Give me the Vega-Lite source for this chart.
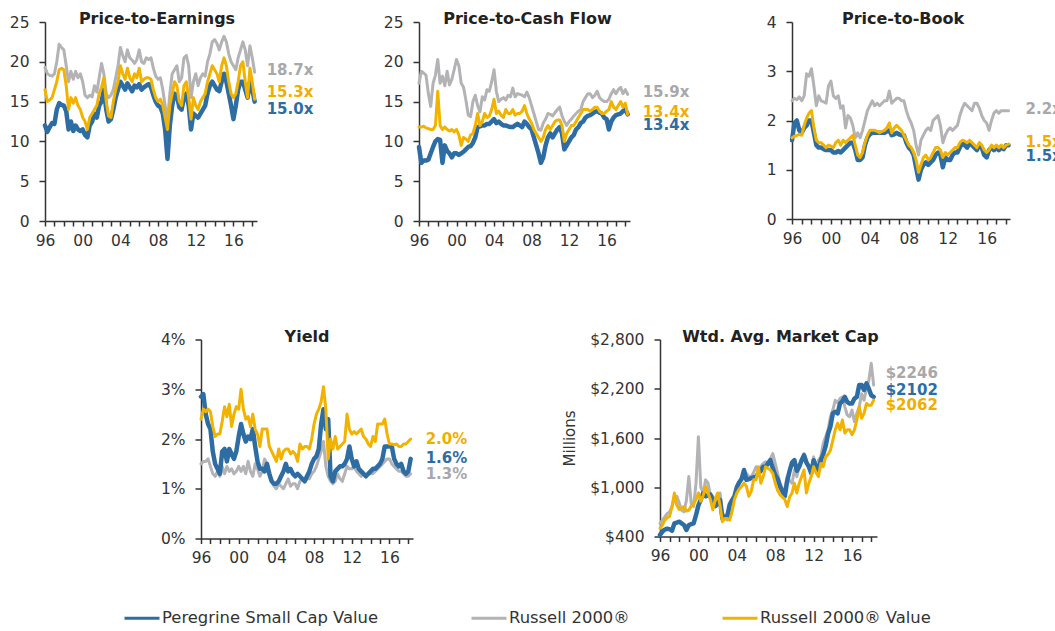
{
"$schema": "https://vega.github.io/schema/vega-lite/v6.json",
"background": "white",
"padding": {"left": 9, "top": 11, "right": 0, "bottom": 0},
"config": {
  "view": {"stroke": null},
  "font": "DejaVu Sans",
  "axis": {"labelFont": "DejaVu Sans", "labelFontSize": 15.5, "labelColor": "#333333", "domainColor": "#333333", "domainWidth": 1.5, "tickColor": "#333333", "tickWidth": 1.5, "tickSize": 6, "labelPadding": 10, "grid": false, "titleFont": "DejaVu Sans", "titleFontSize": 15, "titleFontWeight": "normal", "titleColor": "#333333", "titlePadding": 12},
  "axisX": {"tickSize": 5, "labelPadding": 7, "labelFlush": false, "labelOverlap": false},
  "axisY": {"labelOverlap": false},
  "title": {"font": "DejaVu Sans", "fontSize": 16, "fontWeight": "bold", "color": "#222222", "offset": -12, "frame": "group", "anchor": "middle"},
  "line": {"strokeJoin": "round", "strokeCap": "round"},
  "text": {"font": "DejaVu Sans", "fontSize": 15, "fontWeight": "bold", "align": "left", "baseline": "middle"}
},
"datasets": {
"pe": [
{"t":1996,"P":12.0,"R":19.3,"V":16.5},{"t":1996.25,"P":11.2,"R":18.5,"V":15.0},{"t":1996.5,"P":11.8,"R":18.3,"V":15.2},{"t":1996.75,"P":12.3,"R":18.2,"V":15.5},
{"t":1997,"P":12.2,"R":18.5,"V":16.5},{"t":1997.25,"P":14.0,"R":20.0,"V":17.5},{"t":1997.5,"P":14.8,"R":22.2,"V":19.0},{"t":1997.75,"P":14.6,"R":21.8,"V":19.2},
{"t":1998,"P":14.5,"R":21.5,"V":19.0},{"t":1998.25,"P":13.8,"R":19.5,"V":17.0},{"t":1998.5,"P":11.5,"R":17.5,"V":14.0},{"t":1998.75,"P":12.5,"R":18.8,"V":15.5},
{"t":1999,"P":11.3,"R":17.8,"V":14.8},{"t":1999.25,"P":12.0,"R":18.8,"V":15.5},{"t":1999.5,"P":11.5,"R":18.0,"V":14.5},{"t":1999.75,"P":11.3,"R":18.5,"V":14.0},
{"t":2000,"P":11.5,"R":17.5,"V":13.0},{"t":2000.25,"P":10.8,"R":15.8,"V":12.5},{"t":2000.5,"P":10.5,"R":15.5,"V":11.5},{"t":2000.75,"P":12.0,"R":15.8,"V":13.0},
{"t":2001,"P":12.5,"R":15.6,"V":13.5},{"t":2001.25,"P":13.5,"R":17.0,"V":14.0},{"t":2001.5,"P":13.0,"R":16.2,"V":14.5},{"t":2001.75,"P":14.5,"R":18.0,"V":16.0},
{"t":2002,"P":15.0,"R":19.8,"V":16.8},{"t":2002.25,"P":16.5,"R":18.5,"V":18.0},{"t":2002.5,"P":14.0,"R":16.0,"V":15.0},{"t":2002.75,"P":12.5,"R":15.5,"V":13.2},
{"t":2003,"P":12.8,"R":15.8,"V":13.0},{"t":2003.25,"P":14.0,"R":16.5,"V":15.0},{"t":2003.5,"P":15.5,"R":18.0,"V":16.5},{"t":2003.75,"P":16.5,"R":19.5,"V":17.5},
{"t":2004,"P":17.5,"R":21.8,"V":19.5},{"t":2004.25,"P":17.0,"R":20.8,"V":18.5},{"t":2004.5,"P":16.5,"R":20.0,"V":17.8},{"t":2004.75,"P":17.3,"R":21.5,"V":19.2},
{"t":2005,"P":16.8,"R":20.5,"V":18.0},{"t":2005.25,"P":16.3,"R":20.2,"V":17.5},{"t":2005.5,"P":17.0,"R":19.8,"V":18.5},{"t":2005.75,"P":16.8,"R":20.3,"V":18.0},
{"t":2006,"P":17.2,"R":21.5,"V":19.2},{"t":2006.25,"P":16.5,"R":20.0,"V":17.5},{"t":2006.5,"P":16.8,"R":19.8,"V":17.8},{"t":2006.75,"P":17.0,"R":20.5,"V":18.0},
{"t":2007,"P":17.2,"R":20.3,"V":18.0},{"t":2007.25,"P":16.8,"R":20.5,"V":17.8},{"t":2007.5,"P":15.8,"R":19.2,"V":16.5},{"t":2007.75,"P":15.0,"R":18.2,"V":15.5},
{"t":2008,"P":14.5,"R":17.8,"V":15.0},{"t":2008.25,"P":14.3,"R":18.0,"V":15.3},{"t":2008.5,"P":13.5,"R":16.5,"V":14.5},{"t":2008.75,"P":11.5,"R":14.5,"V":13.0},
{"t":2009,"P":7.8,"R":12.5,"V":11.5},{"t":2009.25,"P":12.0,"R":16.0,"V":14.5},{"t":2009.5,"P":14.5,"R":18.5,"V":16.0},{"t":2009.75,"P":16.0,"R":19.0,"V":17.5},
{"t":2010,"P":15.8,"R":19.5,"V":17.0},{"t":2010.25,"P":14.3,"R":17.5,"V":15.0},{"t":2010.5,"P":14.0,"R":18.0,"V":14.5},{"t":2010.75,"P":15.5,"R":20.5,"V":17.0},
{"t":2011,"P":16.0,"R":20.8,"V":17.5},{"t":2011.25,"P":14.5,"R":19.5,"V":15.5},{"t":2011.5,"P":11.5,"R":15.5,"V":12.8},{"t":2011.75,"P":13.5,"R":17.5,"V":15.5},
{"t":2012,"P":13.2,"R":18.5,"V":14.5},{"t":2012.25,"P":13.0,"R":17.0,"V":14.0},{"t":2012.5,"P":13.5,"R":18.0,"V":15.0},{"t":2012.75,"P":14.0,"R":18.5,"V":15.5},
{"t":2013,"P":14.5,"R":18.2,"V":16.0},{"t":2013.25,"P":16.0,"R":20.0,"V":17.5},{"t":2013.5,"P":17.0,"R":21.0,"V":18.5},{"t":2013.75,"P":17.5,"R":22.5,"V":19.5},
{"t":2014,"P":17.0,"R":22.8,"V":19.0},{"t":2014.25,"P":16.5,"R":22.3,"V":18.5},{"t":2014.5,"P":16.3,"R":21.5,"V":17.5},{"t":2014.75,"P":17.5,"R":22.5,"V":19.5},
{"t":2015,"P":18.5,"R":23.2,"V":20.5},{"t":2015.25,"P":17.5,"R":22.5,"V":19.5},{"t":2015.5,"P":16.0,"R":21.0,"V":17.5},{"t":2015.75,"P":14.5,"R":20.0,"V":16.0},
{"t":2016,"P":12.8,"R":19.5,"V":15.5},{"t":2016.25,"P":14.5,"R":19.0,"V":16.0},{"t":2016.5,"P":16.5,"R":20.5,"V":17.5},{"t":2016.75,"P":17.5,"R":21.5,"V":19.5},
{"t":2017,"P":17.5,"R":22.5,"V":20.0},{"t":2017.25,"P":16.5,"R":21.5,"V":17.5},{"t":2017.5,"P":15.5,"R":19.5,"V":15.5},{"t":2017.75,"P":17.5,"R":22.0,"V":19.2},
{"t":2018,"P":16.5,"R":20.5,"V":17.5},{"t":2018.25,"P":15.0,"R":18.7,"V":15.3}
],
"pcf": [
{"t":1996,"P":9.3,"R":17.3,"V":11.8},{"t":1996.25,"P":7.3,"R":18.8,"V":11.8},{"t":1996.5,"P":7.6,"R":18.6,"V":11.9},{"t":1996.75,"P":7.6,"R":18.3,"V":11.7},
{"t":1997,"P":7.7,"R":16.0,"V":11.6},{"t":1997.25,"P":8.5,"R":14.4,"V":11.5},{"t":1997.5,"P":9.3,"R":17.3,"V":11.5},{"t":1997.75,"P":10.0,"R":18.3,"V":12.0},
{"t":1998,"P":10.3,"R":20.3,"V":16.3},{"t":1998.25,"P":10.2,"R":17.3,"V":12.0},{"t":1998.5,"P":7.3,"R":18.2,"V":11.5},{"t":1998.75,"P":9.5,"R":17.0,"V":11.8},
{"t":1999,"P":8.8,"R":18.8,"V":11.5},{"t":1999.25,"P":8.5,"R":17.1,"V":11.3},{"t":1999.5,"P":8.0,"R":17.8,"V":11.5},{"t":1999.75,"P":8.5,"R":19.0,"V":11.2},
{"t":2000,"P":8.5,"R":20.3,"V":11.5},{"t":2000.25,"P":8.3,"R":19.5,"V":10.8},{"t":2000.5,"P":8.5,"R":17.3,"V":9.5},{"t":2000.75,"P":8.7,"R":16.8,"V":10.5},
{"t":2001,"P":9.0,"R":15.2,"V":10.3},{"t":2001.25,"P":9.3,"R":13.3,"V":10.0},{"t":2001.5,"P":9.4,"R":13.1,"V":10.8},{"t":2001.75,"P":9.8,"R":15.0,"V":11.0},
{"t":2002,"P":10.5,"R":15.8,"V":12.0},{"t":2002.25,"P":11.8,"R":14.5,"V":13.5},{"t":2002.5,"P":11.9,"R":13.7,"V":12.0},{"t":2002.75,"P":12.0,"R":15.6,"V":12.5},
{"t":2003,"P":12.0,"R":15.2,"V":13.5},{"t":2003.25,"P":12.2,"R":16.5,"V":13.0},{"t":2003.5,"P":12.2,"R":16.3,"V":13.2},{"t":2003.75,"P":12.5,"R":17.5,"V":14.0},
{"t":2004,"P":12.8,"R":19.0,"V":15.3},{"t":2004.25,"P":12.3,"R":16.3,"V":13.5},{"t":2004.5,"P":12.5,"R":15.0,"V":13.8},{"t":2004.75,"P":12.2,"R":15.3,"V":13.3},
{"t":2005,"P":12.0,"R":15.5,"V":13.0},{"t":2005.25,"P":12.0,"R":15.2,"V":14.0},{"t":2005.5,"P":11.9,"R":15.8,"V":13.5},{"t":2005.75,"P":11.8,"R":15.6,"V":13.5},
{"t":2006,"P":11.8,"R":16.7,"V":14.0},{"t":2006.25,"P":12.0,"R":15.6,"V":13.3},{"t":2006.5,"P":12.2,"R":16.0,"V":13.5},{"t":2006.75,"P":12.0,"R":15.9,"V":13.5},
{"t":2007,"P":11.8,"R":15.8,"V":13.8},{"t":2007.25,"P":12.5,"R":15.6,"V":14.5},{"t":2007.5,"P":12.2,"R":16.2,"V":13.5},{"t":2007.75,"P":11.8,"R":15.5,"V":12.8},
{"t":2008,"P":11.5,"R":14.5,"V":12.3},{"t":2008.25,"P":10.5,"R":13.5,"V":11.5},{"t":2008.5,"P":9.5,"R":12.5,"V":11.0},{"t":2008.75,"P":8.5,"R":11.5,"V":10.5},
{"t":2009,"P":7.3,"R":11.4,"V":10.0},{"t":2009.25,"P":8.0,"R":12.3,"V":10.5},{"t":2009.5,"P":9.5,"R":12.8,"V":11.5},{"t":2009.75,"P":10.5,"R":13.5,"V":12.0},
{"t":2010,"P":11.0,"R":13.4,"V":11.5},{"t":2010.25,"P":10.5,"R":13.2,"V":12.0},{"t":2010.5,"P":11.0,"R":13.6,"V":12.5},{"t":2010.75,"P":11.5,"R":14.0,"V":12.7},
{"t":2011,"P":11.8,"R":14.3,"V":12.7},{"t":2011.25,"P":11.0,"R":13.2,"V":12.0},{"t":2011.5,"P":9.0,"R":12.5,"V":10.0},{"t":2011.75,"P":9.5,"R":12.0,"V":11.0},
{"t":2012,"P":10.0,"R":12.5,"V":11.5},{"t":2012.25,"P":10.5,"R":12.8,"V":12.0},{"t":2012.5,"P":10.8,"R":13.2,"V":12.0},{"t":2012.75,"P":11.5,"R":13.5,"V":12.5},
{"t":2013,"P":11.8,"R":13.8,"V":13.0},{"t":2013.25,"P":12.3,"R":14.0,"V":13.5},{"t":2013.5,"P":12.5,"R":15.0,"V":14.0},{"t":2013.75,"P":13.0,"R":15.5,"V":14.0},
{"t":2014,"P":13.2,"R":16.0,"V":14.0},{"t":2014.25,"P":13.3,"R":16.0,"V":13.8},{"t":2014.5,"P":13.5,"R":15.5,"V":14.0},{"t":2014.75,"P":13.7,"R":15.8,"V":14.3},
{"t":2015,"P":13.8,"R":16.3,"V":14.3},{"t":2015.25,"P":13.6,"R":15.5,"V":13.8},{"t":2015.5,"P":13.5,"R":15.2,"V":13.5},{"t":2015.75,"P":13.0,"R":15.0,"V":13.5},
{"t":2016,"P":12.8,"R":15.0,"V":13.8},{"t":2016.25,"P":11.5,"R":15.3,"V":14.0},{"t":2016.5,"P":12.5,"R":16.0,"V":15.0},{"t":2016.75,"P":13.0,"R":16.5,"V":14.3},
{"t":2017,"P":13.3,"R":16.0,"V":14.0},{"t":2017.25,"P":13.4,"R":16.5,"V":14.5},{"t":2017.5,"P":13.5,"R":16.8,"V":15.0},{"t":2017.75,"P":13.8,"R":16.0,"V":14.3},
{"t":2018,"P":14.0,"R":16.5,"V":14.8},{"t":2018.25,"P":13.4,"R":15.9,"V":13.4}
],
"pb": [
{"t":1996,"P":1.60,"R":2.40,"V":1.65},{"t":1996.25,"P":1.95,"R":2.45,"V":1.68},{"t":1996.5,"P":2.00,"R":2.42,"V":1.70},{"t":1996.75,"P":1.80,"R":2.48,"V":1.72},
{"t":1997,"P":1.75,"R":2.40,"V":1.70},{"t":1997.25,"P":1.85,"R":2.50,"V":1.90},{"t":1997.5,"P":1.90,"R":2.95,"V":2.05},{"t":1997.75,"P":2.00,"R":2.90,"V":2.15},
{"t":1998,"P":2.00,"R":3.05,"V":2.20},{"t":1998.25,"P":1.75,"R":2.70,"V":1.85},{"t":1998.5,"P":1.50,"R":2.30,"V":1.60},{"t":1998.75,"P":1.45,"R":2.50,"V":1.55},
{"t":1999,"P":1.45,"R":2.40,"V":1.55},{"t":1999.25,"P":1.42,"R":2.38,"V":1.50},{"t":1999.5,"P":1.40,"R":2.35,"V":1.45},{"t":1999.75,"P":1.40,"R":2.70,"V":1.50},
{"t":2000,"P":1.40,"R":2.80,"V":1.48},{"t":2000.25,"P":1.35,"R":2.50,"V":1.45},{"t":2000.5,"P":1.35,"R":2.45,"V":1.55},{"t":2000.75,"P":1.38,"R":2.50,"V":1.60},
{"t":2001,"P":1.35,"R":2.25,"V":1.50},{"t":2001.25,"P":1.40,"R":2.30,"V":1.60},{"t":2001.5,"P":1.45,"R":1.85,"V":1.55},{"t":2001.75,"P":1.50,"R":2.10,"V":1.60},
{"t":2002,"P":1.55,"R":2.05,"V":1.65},{"t":2002.25,"P":1.55,"R":1.90,"V":1.70},{"t":2002.5,"P":1.40,"R":1.65,"V":1.50},{"t":2002.75,"P":1.20,"R":1.75,"V":1.30},
{"t":2003,"P":1.20,"R":1.65,"V":1.25},{"t":2003.25,"P":1.25,"R":1.80,"V":1.35},{"t":2003.5,"P":1.50,"R":2.00,"V":1.55},{"t":2003.75,"P":1.65,"R":2.20,"V":1.70},
{"t":2004,"P":1.72,"R":2.30,"V":1.80},{"t":2004.25,"P":1.75,"R":2.40,"V":1.80},{"t":2004.5,"P":1.75,"R":2.30,"V":1.80},{"t":2004.75,"P":1.75,"R":2.35,"V":1.78},
{"t":2005,"P":1.75,"R":2.30,"V":1.75},{"t":2005.25,"P":1.75,"R":2.35,"V":1.78},{"t":2005.5,"P":1.75,"R":2.40,"V":1.80},{"t":2005.75,"P":1.78,"R":2.40,"V":1.85},
{"t":2006,"P":1.80,"R":2.60,"V":1.95},{"t":2006.25,"P":1.70,"R":2.35,"V":1.75},{"t":2006.5,"P":1.72,"R":2.40,"V":1.85},{"t":2006.75,"P":1.75,"R":2.45,"V":1.90},
{"t":2007,"P":1.72,"R":2.45,"V":1.85},{"t":2007.25,"P":1.70,"R":2.40,"V":1.80},{"t":2007.5,"P":1.70,"R":2.40,"V":1.70},{"t":2007.75,"P":1.55,"R":2.20,"V":1.60},
{"t":2008,"P":1.45,"R":2.05,"V":1.50},{"t":2008.25,"P":1.40,"R":1.95,"V":1.45},{"t":2008.5,"P":1.30,"R":1.80,"V":1.35},{"t":2008.75,"P":1.05,"R":1.50,"V":1.20},
{"t":2009,"P":0.80,"R":1.30,"V":0.95},{"t":2009.25,"P":1.00,"R":1.60,"V":1.10},{"t":2009.5,"P":1.10,"R":1.70,"V":1.25},{"t":2009.75,"P":1.15,"R":1.80,"V":1.30},
{"t":2010,"P":1.10,"R":1.85,"V":1.20},{"t":2010.25,"P":1.15,"R":1.80,"V":1.25},{"t":2010.5,"P":1.20,"R":2.00,"V":1.35},{"t":2010.75,"P":1.30,"R":2.05,"V":1.45},
{"t":2011,"P":1.35,"R":2.10,"V":1.45},{"t":2011.25,"P":1.30,"R":1.90,"V":1.40},{"t":2011.5,"P":1.05,"R":1.55,"V":1.25},{"t":2011.75,"P":1.25,"R":1.70,"V":1.35},
{"t":2012,"P":1.20,"R":1.80,"V":1.30},{"t":2012.25,"P":1.20,"R":1.85,"V":1.35},{"t":2012.5,"P":1.30,"R":1.80,"V":1.40},{"t":2012.75,"P":1.35,"R":1.85,"V":1.45},
{"t":2013,"P":1.35,"R":1.90,"V":1.45},{"t":2013.25,"P":1.45,"R":2.10,"V":1.55},{"t":2013.5,"P":1.55,"R":2.25,"V":1.60},{"t":2013.75,"P":1.50,"R":2.35,"V":1.58},
{"t":2014,"P":1.45,"R":2.30,"V":1.55},{"t":2014.25,"P":1.55,"R":2.25,"V":1.60},{"t":2014.5,"P":1.50,"R":2.20,"V":1.55},{"t":2014.75,"P":1.45,"R":2.35,"V":1.50},
{"t":2015,"P":1.40,"R":2.35,"V":1.45},{"t":2015.25,"P":1.50,"R":2.25,"V":1.55},{"t":2015.5,"P":1.45,"R":2.10,"V":1.50},{"t":2015.75,"P":1.30,"R":2.00,"V":1.40},
{"t":2016,"P":1.25,"R":1.95,"V":1.35},{"t":2016.25,"P":1.40,"R":1.80,"V":1.40},{"t":2016.5,"P":1.45,"R":2.00,"V":1.50},{"t":2016.75,"P":1.40,"R":2.15,"V":1.45},
{"t":2017,"P":1.45,"R":2.20,"V":1.50},{"t":2017.25,"P":1.40,"R":2.15,"V":1.45},{"t":2017.5,"P":1.45,"R":2.20,"V":1.50},{"t":2017.75,"P":1.42,"R":2.20,"V":1.45},
{"t":2018,"P":1.50,"R":2.20,"V":1.50},{"t":2018.25,"P":1.50,"R":2.20,"V":1.52}
],
"yld": [
{"t":1996,"P":2.85,"R":1.50,"V":2.40},{"t":1996.25,"P":2.90,"R":1.55,"V":2.60},{"t":1996.5,"P":2.50,"R":1.55,"V":2.55},{"t":1996.75,"P":2.30,"R":1.60,"V":2.60},
{"t":1997,"P":2.20,"R":1.45,"V":2.55},{"t":1997.25,"P":1.75,"R":1.30,"V":2.25},{"t":1997.5,"P":1.50,"R":1.25,"V":2.05},{"t":1997.75,"P":1.40,"R":1.35,"V":2.10},
{"t":1998,"P":1.30,"R":1.25,"V":2.10},{"t":1998.25,"P":1.75,"R":1.45,"V":2.35},{"t":1998.5,"P":1.80,"R":1.30,"V":2.65},{"t":1998.75,"P":1.55,"R":1.45,"V":2.45},
{"t":1999,"P":1.80,"R":1.35,"V":2.70},{"t":1999.25,"P":1.70,"R":1.40,"V":2.25},{"t":1999.5,"P":1.60,"R":1.30,"V":2.50},{"t":1999.75,"P":1.75,"R":1.35,"V":2.65},
{"t":2000,"P":2.05,"R":1.45,"V":2.60},{"t":2000.25,"P":2.30,"R":1.35,"V":3.00},{"t":2000.5,"P":2.10,"R":1.45,"V":2.60},{"t":2000.75,"P":1.95,"R":1.30,"V":2.40},
{"t":2001,"P":2.05,"R":1.55,"V":2.45},{"t":2001.25,"P":2.00,"R":1.35,"V":2.25},{"t":2001.5,"P":2.20,"R":1.25,"V":2.50},{"t":2001.75,"P":1.85,"R":1.50,"V":2.20},
{"t":2002,"P":1.55,"R":1.40,"V":2.10},{"t":2002.25,"P":1.40,"R":1.25,"V":1.85},{"t":2002.5,"P":1.40,"R":1.35,"V":2.20},{"t":2002.75,"P":1.35,"R":1.60,"V":2.20},
{"t":2003,"P":1.50,"R":1.50,"V":2.20},{"t":2003.25,"P":1.30,"R":1.35,"V":1.85},{"t":2003.5,"P":1.15,"R":1.15,"V":1.75},{"t":2003.75,"P":1.10,"R":1.05,"V":1.65},
{"t":2004,"P":1.10,"R":1.00,"V":1.55},{"t":2004.25,"P":1.15,"R":1.10,"V":1.80},{"t":2004.5,"P":1.25,"R":1.05,"V":1.60},{"t":2004.75,"P":1.35,"R":1.00,"V":1.75},
{"t":2005,"P":1.50,"R":1.10,"V":1.80},{"t":2005.25,"P":1.35,"R":1.20,"V":1.80},{"t":2005.5,"P":1.40,"R":1.05,"V":1.70},{"t":2005.75,"P":1.30,"R":1.10,"V":1.75},
{"t":2006,"P":1.25,"R":1.10,"V":1.70},{"t":2006.25,"P":1.30,"R":1.00,"V":1.55},{"t":2006.5,"P":1.25,"R":1.15,"V":1.90},{"t":2006.75,"P":1.20,"R":1.20,"V":1.80},
{"t":2007,"P":1.15,"R":1.15,"V":1.85},{"t":2007.25,"P":1.25,"R":1.20,"V":1.85},{"t":2007.5,"P":1.35,"R":1.20,"V":1.80},{"t":2007.75,"P":1.50,"R":1.30,"V":2.00},
{"t":2008,"P":1.60,"R":1.35,"V":2.30},{"t":2008.25,"P":1.65,"R":1.45,"V":2.50},{"t":2008.5,"P":1.80,"R":1.60,"V":2.60},{"t":2008.75,"P":2.30,"R":1.75,"V":2.75},
{"t":2009,"P":2.60,"R":1.95,"V":3.05},{"t":2009.25,"P":2.20,"R":1.45,"V":2.60},{"t":2009.5,"P":2.40,"R":1.25,"V":1.60},{"t":2009.75,"P":1.25,"R":1.15,"V":2.00},
{"t":2010,"P":1.15,"R":1.10,"V":1.80},{"t":2010.25,"P":1.35,"R":1.15,"V":2.05},{"t":2010.5,"P":1.40,"R":1.30,"V":1.80},{"t":2010.75,"P":1.45,"R":1.20,"V":1.85},
{"t":2011,"P":1.45,"R":1.15,"V":1.90},{"t":2011.25,"P":1.50,"R":1.30,"V":1.95},{"t":2011.5,"P":1.60,"R":1.45,"V":2.50},{"t":2011.75,"P":1.85,"R":1.40,"V":2.20},
{"t":2012,"P":1.60,"R":1.40,"V":2.10},{"t":2012.25,"P":1.45,"R":1.45,"V":2.15},{"t":2012.5,"P":1.55,"R":1.35,"V":2.10},{"t":2012.75,"P":1.40,"R":1.30,"V":2.15},
{"t":2013,"P":1.35,"R":1.25,"V":2.20},{"t":2013.25,"P":1.30,"R":1.30,"V":2.05},{"t":2013.5,"P":1.25,"R":1.25,"V":2.00},{"t":2013.75,"P":1.30,"R":1.30,"V":1.90},
{"t":2014,"P":1.35,"R":1.30,"V":1.85},{"t":2014.25,"P":1.40,"R":1.30,"V":2.05},{"t":2014.5,"P":1.40,"R":1.35,"V":1.95},{"t":2014.75,"P":1.45,"R":1.40,"V":2.30},
{"t":2015,"P":1.50,"R":1.45,"V":2.30},{"t":2015.25,"P":1.60,"R":1.50,"V":2.30},{"t":2015.5,"P":1.85,"R":1.55,"V":2.40},{"t":2015.75,"P":1.85,"R":1.60,"V":2.10},
{"t":2016,"P":1.85,"R":1.60,"V":1.90},{"t":2016.25,"P":1.85,"R":1.50,"V":1.90},{"t":2016.5,"P":1.60,"R":1.45,"V":1.88},{"t":2016.75,"P":1.50,"R":1.40,"V":1.90},
{"t":2017,"P":1.45,"R":1.35,"V":1.85},{"t":2017.25,"P":1.50,"R":1.35,"V":1.85},{"t":2017.5,"P":1.35,"R":1.30,"V":1.90},{"t":2017.75,"P":1.30,"R":1.25,"V":1.90},
{"t":2018,"P":1.35,"R":1.25,"V":1.95},{"t":2018.25,"P":1.60,"R":1.30,"V":2.00}
],
"cap": [
{"t":1996,"P":420,"R":560,"V":500},{"t":1996.25,"P":460,"R":600,"V":540},{"t":1996.5,"P":485,"R":640,"V":600},{"t":1996.75,"P":495,"R":680,"V":630},
{"t":1997,"P":490,"R":700,"V":645},{"t":1997.25,"P":470,"R":765,"V":765},{"t":1997.5,"P":560,"R":860,"V":930},{"t":1997.75,"P":570,"R":890,"V":780},
{"t":1998,"P":580,"R":810,"V":730},{"t":1998.25,"P":560,"R":720,"V":745},{"t":1998.5,"P":540,"R":700,"V":765},{"t":1998.75,"P":480,"R":840,"V":710},
{"t":1999,"P":540,"R":1130,"V":720},{"t":1999.25,"P":550,"R":805,"V":770},{"t":1999.5,"P":560,"R":765,"V":800},{"t":1999.75,"P":660,"R":1050,"V":850},
{"t":2000,"P":780,"R":1615,"V":930},{"t":2000.25,"P":850,"R":1000,"V":830},{"t":2000.5,"P":930,"R":930,"V":900},{"t":2000.75,"P":890,"R":1090,"V":1010},
{"t":2001,"P":900,"R":1050,"V":930},{"t":2001.25,"P":910,"R":900,"V":850},{"t":2001.5,"P":840,"R":890,"V":725},{"t":2001.75,"P":770,"R":850,"V":850},
{"t":2002,"P":800,"R":785,"V":930},{"t":2002.25,"P":845,"R":930,"V":780},{"t":2002.5,"P":620,"R":700,"V":580},{"t":2002.75,"P":645,"R":620,"V":620},
{"t":2003,"P":645,"R":600,"V":620},{"t":2003.25,"P":785,"R":700,"V":600},{"t":2003.5,"P":840,"R":805,"V":700},{"t":2003.75,"P":890,"R":900,"V":850},
{"t":2004,"P":1000,"R":950,"V":930},{"t":2004.25,"P":1060,"R":1050,"V":980},{"t":2004.5,"P":1100,"R":1130,"V":1010},{"t":2004.75,"P":1210,"R":1170,"V":1050},
{"t":2005,"P":1090,"R":1170,"V":1010},{"t":2005.25,"P":1100,"R":1130,"V":890},{"t":2005.5,"P":1110,"R":1130,"V":950},{"t":2005.75,"P":1120,"R":1180,"V":1090},
{"t":2006,"P":1130,"R":1250,"V":1090},{"t":2006.25,"P":1170,"R":1210,"V":1250},{"t":2006.5,"P":1200,"R":1250,"V":1050},{"t":2006.75,"P":1250,"R":1290,"V":1130},
{"t":2007,"P":1250,"R":1310,"V":1250},{"t":2007.25,"P":1290,"R":1290,"V":1230},{"t":2007.5,"P":1330,"R":1350,"V":1210},{"t":2007.75,"P":1230,"R":1410,"V":1170},
{"t":2008,"P":1150,"R":1290,"V":1050},{"t":2008.25,"P":1100,"R":1170,"V":960},{"t":2008.5,"P":1010,"R":1050,"V":910},{"t":2008.75,"P":950,"R":980,"V":880},
{"t":2009,"P":890,"R":970,"V":850},{"t":2009.25,"P":1080,"R":1130,"V":765},{"t":2009.5,"P":1200,"R":1080,"V":880},{"t":2009.75,"P":1300,"R":1050,"V":930},
{"t":2010,"P":1330,"R":1210,"V":1050},{"t":2010.25,"P":1200,"R":1130,"V":930},{"t":2010.5,"P":1250,"R":1250,"V":1050},{"t":2010.75,"P":1330,"R":1330,"V":1130},
{"t":2011,"P":1390,"R":1410,"V":1210},{"t":2011.25,"P":1300,"R":1330,"V":930},{"t":2011.5,"P":1250,"R":1250,"V":1050},{"t":2011.75,"P":1170,"R":1210,"V":1130},
{"t":2012,"P":1330,"R":1370,"V":1250},{"t":2012.25,"P":1250,"R":1250,"V":1180},{"t":2012.5,"P":1210,"R":1330,"V":1130},{"t":2012.75,"P":1330,"R":1370,"V":1290},
{"t":2013,"P":1400,"R":1535,"V":1250},{"t":2013.25,"P":1500,"R":1615,"V":1370},{"t":2013.5,"P":1650,"R":1700,"V":1400},{"t":2013.75,"P":1740,"R":1860,"V":1450},
{"t":2014,"P":1900,"R":1940,"V":1575},{"t":2014.25,"P":1920,"R":2060,"V":1700},{"t":2014.5,"P":1900,"R":2030,"V":1780},{"t":2014.75,"P":2020,"R":2080,"V":1700},
{"t":2015,"P":2050,"R":2100,"V":1820},{"t":2015.25,"P":2100,"R":1980,"V":1660},{"t":2015.5,"P":2040,"R":1880,"V":1700},{"t":2015.75,"P":2020,"R":1860,"V":1700},
{"t":2016,"P":2020,"R":1940,"V":1640},{"t":2016.25,"P":2080,"R":1800,"V":1700},{"t":2016.5,"P":2100,"R":1900,"V":1820},{"t":2016.75,"P":2245,"R":1980,"V":1980},
{"t":2017,"P":2245,"R":2140,"V":1840},{"t":2017.25,"P":2185,"R":2060,"V":1900},{"t":2017.5,"P":2265,"R":2200,"V":2020},{"t":2017.75,"P":2200,"R":2300,"V":2000},
{"t":2018,"P":2120,"R":2510,"V":2000},{"t":2018.25,"P":2102,"R":2246,"V":2062}
]
},
"spacing": 79.5,
"vconcat": [
{
"hconcat": [
{
 "title": {"text": "Price-to-Earnings", "dx": 6},
 "width": 212, "height": 199,
 "data": {"name": "pe"},
 "transform": [{"fold": ["R","P","V"], "as": ["s","v"]}],
 "encoding": {
  "x": {"field": "t", "type": "quantitative", "scale": {"domain": [1996, 2018.5], "nice": false, "zero": false}, "axis": {"title": null, "values": [1996,1997,1998,1999,2000,2001,2002,2003,2004,2005,2006,2007,2008,2009,2010,2011,2012,2013,2014,2015,2016,2017,2018], "labelExpr": "(datum.value - 1996) % 4 == 0 ? substring(toString(datum.value), 2, 4) : ''"}},
  "y": {"field": "v", "type": "quantitative", "scale": {"domain": [0, 25], "nice": false}, "axis": {"title": null, "values": [0,5,10,15,20,25]}}
 },
 "layer": [
  {"mark": {"type": "line"}, "encoding": {
    "color": {"field": "s", "type": "nominal", "scale": {"domain": ["P","R","V"], "range": ["#2E6DA4","#B3B3B6","#F2B300"]},
      "legend": {"orient": "none", "legendX": 78, "legendY": 577, "direction": "horizontal", "title": null, "symbolType": "stroke", "symbolSize": 1225, "symbolStrokeWidth": 3, "labelFont": "DejaVu Sans", "labelFontSize": 16.4, "labelLimit": 500, "labelColor": "#333333", "columnPadding": 91, "labelOffset": 1,
        "labelExpr": "datum.label == 'P' ? 'Peregrine Small Cap Value' : datum.label == 'R' ? 'Russell 2000®' : 'Russell 2000® Value'",
        "encode": {"symbols": {"update": {"strokeWidth": {"signal": "datum.value == 'P' ? 5 : 3"}}}}}},
    "strokeWidth": {"condition": {"test": "datum.s == 'P'", "value": 4.5}, "value": 3}}},
  {"transform": [{"filter": "datum.t == 2018.25 && datum.s == 'R'"}, {"calculate": "format(datum.v, '.1f') + 'x'", "as": "lbl"}], "mark": {"type": "text", "dx": 12, "dy": -2, "color": "#A8A8AB"}, "encoding": {"text": {"field": "lbl", "type": "nominal"}}},
  {"transform": [{"filter": "datum.t == 2018.25 && datum.s == 'V'"}, {"calculate": "format(datum.v, '.1f') + 'x'", "as": "lbl"}], "mark": {"type": "text", "dx": 12, "dy": -7.5, "color": "#F0AE00"}, "encoding": {"text": {"field": "lbl", "type": "nominal"}}},
  {"transform": [{"filter": "datum.t == 2018.25 && datum.s == 'P'"}, {"calculate": "format(datum.v, '.1f') + 'x'", "as": "lbl"}], "mark": {"type": "text", "dx": 12, "dy": 7.7, "color": "#2E6DA4"}, "encoding": {"text": {"field": "lbl", "type": "nominal"}}}
 ]
},
{
 "title": {"text": "Price-to-Cash Flow", "dx": 3},
 "width": 211, "height": 199,
 "data": {"name": "pcf"},
 "transform": [{"fold": ["R","P","V"], "as": ["s","v"]}],
 "encoding": {
  "x": {"field": "t", "type": "quantitative", "scale": {"domain": [1996, 2018.5], "nice": false, "zero": false}, "axis": {"title": null, "values": [1996,1997,1998,1999,2000,2001,2002,2003,2004,2005,2006,2007,2008,2009,2010,2011,2012,2013,2014,2015,2016,2017,2018], "labelExpr": "(datum.value - 1996) % 4 == 0 ? substring(toString(datum.value), 2, 4) : ''"}},
  "y": {"field": "v", "type": "quantitative", "scale": {"domain": [0, 25], "nice": false}, "axis": {"title": null, "values": [0,5,10,15,20,25]}}
 },
 "layer": [
  {"mark": {"type": "line"}, "encoding": {
    "color": {"field": "s", "type": "nominal", "scale": {"domain": ["P","R","V"], "range": ["#2E6DA4","#B3B3B6","#F2B300"]}, "legend": null},
    "strokeWidth": {"condition": {"test": "datum.s == 'P'", "value": 4.5}, "value": 3}}},
  {"transform": [{"filter": "datum.t == 2018.25 && datum.s == 'R'"}, {"calculate": "format(datum.v, '.1f') + 'x'", "as": "lbl"}], "mark": {"type": "text", "dx": 15, "dy": -2, "color": "#A8A8AB"}, "encoding": {"text": {"field": "lbl", "type": "nominal"}}},
  {"transform": [{"filter": "datum.t == 2018.25 && datum.s == 'V'"}, {"calculate": "format(datum.v, '.1f') + 'x'", "as": "lbl"}], "mark": {"type": "text", "dx": 15, "dy": -2.6, "color": "#F0AE00"}, "encoding": {"text": {"field": "lbl", "type": "nominal"}}},
  {"transform": [{"filter": "datum.t == 2018.25 && datum.s == 'P'"}, {"calculate": "format(datum.v, '.1f') + 'x'", "as": "lbl"}], "mark": {"type": "text", "dx": 15, "dy": 10.7, "color": "#2E6DA4"}, "encoding": {"text": {"field": "lbl", "type": "nominal"}}}
 ]
},
{
 "title": {"text": "Price-to-Book", "dx": 2},
 "width": 218, "height": 197,
 "data": {"name": "pb"},
 "transform": [{"fold": ["R","P","V"], "as": ["s","v"]}],
 "encoding": {
  "x": {"field": "t", "type": "quantitative", "scale": {"domain": [1996, 2018.4], "nice": false, "zero": false}, "axis": {"title": null, "values": [1996,1997,1998,1999,2000,2001,2002,2003,2004,2005,2006,2007,2008,2009,2010,2011,2012,2013,2014,2015,2016,2017,2018], "labelExpr": "(datum.value - 1996) % 4 == 0 ? substring(toString(datum.value), 2, 4) : ''"}},
  "y": {"field": "v", "type": "quantitative", "scale": {"domain": [0, 4], "nice": false}, "axis": {"title": null, "values": [0,1,2,3,4]}}
 },
 "layer": [
  {"mark": {"type": "line"}, "encoding": {
    "color": {"field": "s", "type": "nominal", "scale": {"domain": ["P","R","V"], "range": ["#2E6DA4","#B3B3B6","#F2B300"]}, "legend": null},
    "strokeWidth": {"condition": {"test": "datum.s == 'P'", "value": 4.5}, "value": 3}}},
  {"transform": [{"filter": "datum.t == 2018.25 && datum.s == 'R'"}, {"calculate": "format(datum.v, '.1f') + 'x'", "as": "lbl"}], "mark": {"type": "text", "dx": 17, "dy": -1.5, "color": "#A8A8AB"}, "encoding": {"text": {"field": "lbl", "type": "nominal"}}},
  {"transform": [{"filter": "datum.t == 2018.25 && datum.s == 'V'"}, {"calculate": "format(datum.v, '.1f') + 'x'", "as": "lbl"}], "mark": {"type": "text", "dx": 17, "dy": -2, "color": "#F0AE00"}, "encoding": {"text": {"field": "lbl", "type": "nominal"}}},
  {"transform": [{"filter": "datum.t == 2018.25 && datum.s == 'P'"}, {"calculate": "format(datum.v, '.1f') + 'x'", "as": "lbl"}], "mark": {"type": "text", "dx": 17, "dy": 11, "color": "#2E6DA4"}, "encoding": {"text": {"field": "lbl", "type": "nominal"}}}
 ]
}
],
"spacing": 162,
"bounds": "flush"
},
{
"hconcat": [
{
 "width": 21, "height": 199,
 "data": {"values": [{}]},
 "mark": {"type": "text", "text": ""}
},
{
 "title": {"text": "Yield"},
 "width": 212, "height": 199,
 "data": {"name": "yld"},
 "transform": [{"fold": ["R","P","V"], "as": ["s","v"]}],
 "encoding": {
  "x": {"field": "t", "type": "quantitative", "scale": {"domain": [1996, 2018.5], "nice": false, "zero": false}, "axis": {"title": null, "values": [1996,1997,1998,1999,2000,2001,2002,2003,2004,2005,2006,2007,2008,2009,2010,2011,2012,2013,2014,2015,2016,2017,2018], "labelExpr": "(datum.value - 1996) % 4 == 0 ? substring(toString(datum.value), 2, 4) : ''"}},
  "y": {"field": "v", "type": "quantitative", "scale": {"domain": [0, 4], "nice": false}, "axis": {"title": null, "values": [0,1,2,3,4], "labelExpr": "datum.value + '%'"}}
 },
 "layer": [
  {"mark": {"type": "line"}, "encoding": {
    "color": {"field": "s", "type": "nominal", "scale": {"domain": ["P","R","V"], "range": ["#2E6DA4","#B3B3B6","#F2B300"]}, "legend": null},
    "strokeWidth": {"condition": {"test": "datum.s == 'P'", "value": 4.5}, "value": 3}}},
  {"transform": [{"filter": "datum.t == 2018.25 && datum.s == 'R'"}, {"calculate": "format(datum.v, '.1f') + '%'", "as": "lbl"}], "mark": {"type": "text", "dx": 15, "dy": 0, "color": "#A8A8AB"}, "encoding": {"text": {"field": "lbl", "type": "nominal"}}},
  {"transform": [{"filter": "datum.t == 2018.25 && datum.s == 'V'"}, {"calculate": "format(datum.v, '.1f') + '%'", "as": "lbl"}], "mark": {"type": "text", "dx": 15, "dy": 0, "color": "#F0AE00"}, "encoding": {"text": {"field": "lbl", "type": "nominal"}}},
  {"transform": [{"filter": "datum.t == 2018.25 && datum.s == 'P'"}, {"calculate": "format(datum.v, '.1f') + '%'", "as": "lbl"}], "mark": {"type": "text", "dx": 15, "dy": -1, "color": "#2E6DA4"}, "encoding": {"text": {"field": "lbl", "type": "nominal"}}}
 ]
},
{
 "title": {"text": "Wtd. Avg. Market Cap", "dx": 12},
 "width": 217, "height": 197,
 "data": {"name": "cap"},
 "transform": [{"fold": ["R","P","V"], "as": ["s","v"]}],
 "encoding": {
  "x": {"field": "t", "type": "quantitative", "scale": {"domain": [1996, 2018.6], "nice": false, "zero": false}, "axis": {"title": null, "values": [1996,1997,1998,1999,2000,2001,2002,2003,2004,2005,2006,2007,2008,2009,2010,2011,2012,2013,2014,2015,2016,2017,2018], "labelExpr": "(datum.value - 1996) % 4 == 0 ? substring(toString(datum.value), 2, 4) : ''"}},
  "y": {"field": "v", "type": "quantitative", "scale": {"domain": [400, 2800], "nice": false, "zero": false}, "axis": {"title": "Millions", "values": [400,1000,1600,2200,2800], "format": "$,d"}}
 },
 "layer": [
  {"mark": {"type": "line"}, "encoding": {
    "color": {"field": "s", "type": "nominal", "scale": {"domain": ["P","R","V"], "range": ["#2E6DA4","#B3B3B6","#F2B300"]}, "legend": null},
    "strokeWidth": {"condition": {"test": "datum.s == 'P'", "value": 4.5}, "value": 3}}},
  {"transform": [{"filter": "datum.t == 2018.25 && datum.s == 'R'"}, {"calculate": "'$' + format(datum.v, 'd')", "as": "lbl"}], "mark": {"type": "text", "dx": 12, "dy": -12, "color": "#A8A8AB"}, "encoding": {"text": {"field": "lbl", "type": "nominal"}}},
  {"transform": [{"filter": "datum.t == 2018.25 && datum.s == 'V'"}, {"calculate": "'$' + format(datum.v, 'd')", "as": "lbl"}], "mark": {"type": "text", "dx": 12, "dy": 5, "color": "#F0AE00"}, "encoding": {"text": {"field": "lbl", "type": "nominal"}}},
  {"transform": [{"filter": "datum.t == 2018.25 && datum.s == 'P'"}, {"calculate": "'$' + format(datum.v, 'd')", "as": "lbl"}], "mark": {"type": "text", "dx": 12, "dy": -6.7, "color": "#2E6DA4"}, "encoding": {"text": {"field": "lbl", "type": "nominal"}}}
 ]
}
],
"spacing": 94
}
]
}
